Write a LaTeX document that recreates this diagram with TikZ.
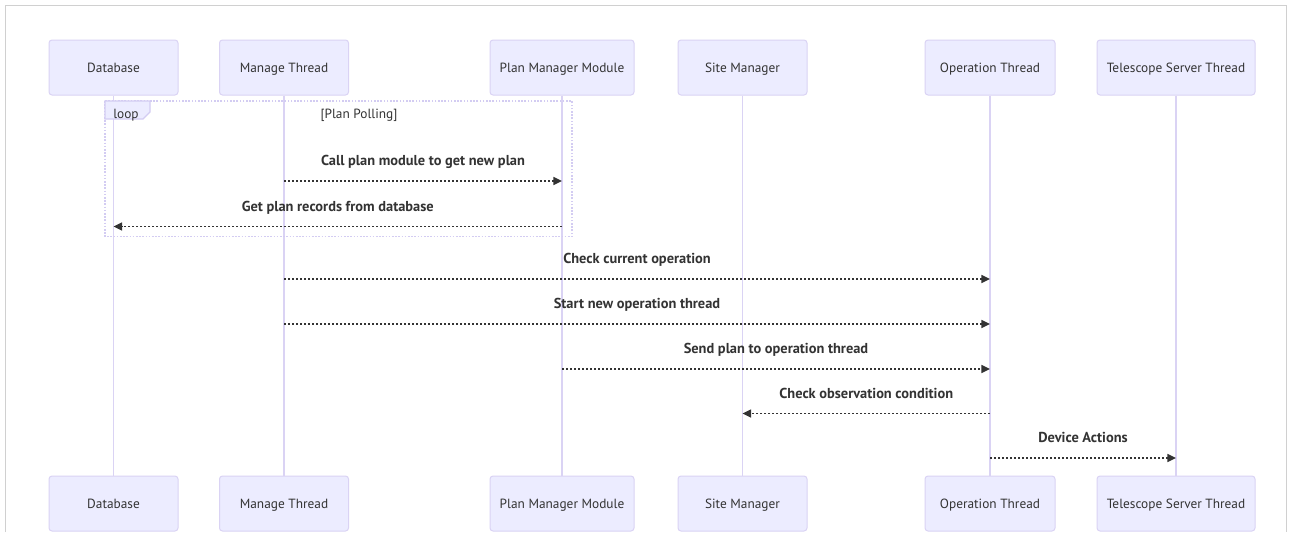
\documentclass[tikz,border=0pt]{standalone}
\usepackage{fontspec}
\setmainfont{PT Sans}
\usetikzlibrary{arrows.meta}

\definecolor{actorfill}{HTML}{ECECFF}
\definecolor{actorline}{HTML}{DAD3F4}
\definecolor{msgcol}{HTML}{333333}
\definecolor{framecol}{HTML}{D0D0D0}
\definecolor{loopline}{HTML}{D3CCF2}

\begin{document}
\begin{tikzpicture}[x=0.75pt,y=-0.75pt,
  actor/.style={draw=actorline, fill=actorfill, line width=0.75pt,
    rounded corners=2.25pt, minimum height={55*0.75pt}, inner sep=0pt,
    text height=6.75pt, text depth=0pt,
    font=\fontsize{10}{12}\selectfont, text=msgcol},
  lifeline/.style={draw=actorline, line width=1pt},
  msg/.style={draw=msgcol, line width=1.1pt, dash pattern=on 1.5pt off 1.5pt,
    -{Triangle[length=6.5pt,width=6pt]}},
  msglabel/.style={font=\bfseries\fontsize{10.8}{12}\selectfont, text=msgcol,
    inner sep=0pt, anchor=base, yshift={15.5*0.75pt}},
  loopframe/.style={draw=loopline, line width=1.2pt, dash pattern=on 1.2pt off 1.2pt},
  looptext/.style={font=\fontsize{10}{12}\selectfont, text=msgcol, inner sep=0pt,
    anchor=base}
]
\useasboundingbox (0,0) rectangle (1292,532);
\fill[white] (0,0) rectangle (1292,532);

% outer frame
\draw[framecol, line width=0.9pt] (5.5,532) -- (5.5,5.5) -- (1286.5,5.5) -- (1286.5,532);

% participants, top row
\node[actor, minimum width={129*0.75pt}] (dbT) at (113.5,67.5) {Database};
\node[actor, minimum width={129*0.75pt}] (mtT) at (284,67.5) {Manage Thread};
\node[actor, minimum width={144*0.75pt}] (pmT) at (562,67.5) {Plan Manager Module};
\node[actor, minimum width={129*0.75pt}] (smT) at (742.5,67.5) {Site Manager};
\node[actor, minimum width={130*0.75pt}] (otT) at (990,67.5) {Operation Thread};
\node[actor, minimum width={158*0.75pt}] (tsT) at (1176,67.5) {Telescope Server Thread};

% participants, bottom row
\node[actor, minimum width={129*0.75pt}] (dbB) at (113.5,503.5) {Database};
\node[actor, minimum width={129*0.75pt}] (mtB) at (284,503.5) {Manage Thread};
\node[actor, minimum width={144*0.75pt}] (pmB) at (562,503.5) {Plan Manager Module};
\node[actor, minimum width={129*0.75pt}] (smB) at (742.5,503.5) {Site Manager};
\node[actor, minimum width={130*0.75pt}] (otB) at (990,503.5) {Operation Thread};
\node[actor, minimum width={158*0.75pt}] (tsB) at (1176,503.5) {Telescope Server Thread};

% lifelines
\foreach \p in {db,mt,pm,sm,ot,ts}
  \draw[lifeline] (\p T.south) -- (\p B.north);

% loop fragment
\draw[loopframe] (105,101) rectangle (572,236.5);
\filldraw[fill=actorfill, draw=loopline, line width=0.9pt]
  (105,101) -- (150,101) -- (150,112) -- (143,119) -- (105,119) -- cycle;
\node[looptext] (looplbl) at (126,118) {loop};
\node[looptext] (loopcond) at (359,118.5) {[Plan Polling]};

% messages
\draw[msg] (mtT |- 0,181) -- node[msglabel] {Call plan module to get new plan} (pmT |- 0,181);
\draw[msg] (pmT |- 0,226.5) -- node[msglabel] {Get plan records from database} (dbT |- 0,226.5);
\draw[msg] (mtT |- 0,279) -- node[msglabel] {Check current operation} (otT |- 0,279);
\draw[msg] (mtT |- 0,324) -- node[msglabel] {Start new operation thread} (otT |- 0,324);
\draw[msg] (pmT |- 0,369) -- node[msglabel] {Send plan to operation thread} (otT |- 0,369);
\draw[msg] (otT |- 0,413.5) -- node[msglabel] {Check observation condition} (smT |- 0,413.5);
\draw[msg] (otT |- 0,458) -- node[msglabel] {Device Actions} (tsT |- 0,458);
\end{tikzpicture}
\end{document}
